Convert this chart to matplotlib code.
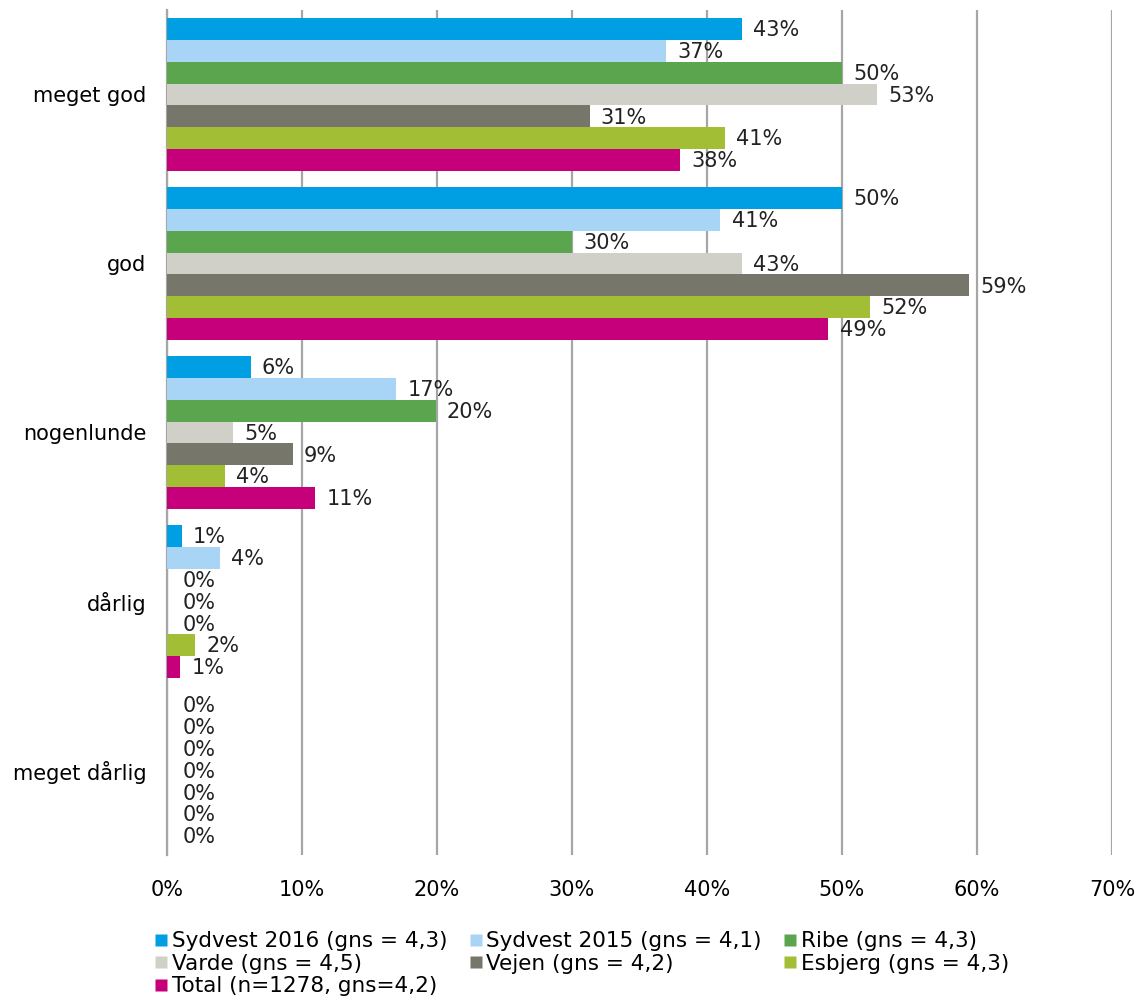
import numpy as np
import matplotlib.pyplot as plt
from matplotlib.lines import Line2D

categories = ['meget god', 'god', 'nogenlunde', 'dårlig', 'meget dårlig']
series = ['Sydvest 2016 (gns = 4,3)', 'Sydvest 2015 (gns = 4,1)', 'Ribe (gns = 4,3)',
          'Varde (gns = 4,5)', 'Vejen (gns = 4,2)', 'Esbjerg (gns = 4,3)',
          'Total (n=1278, gns=4,2)']
colors = ['#009FE3', '#A8D4F5', '#5BA54F', '#D0D0C8', '#77766A', '#A1BE35', '#C5007A']

sydvest_2016 = [42.6, 50.0, 6.2, 1.1, 0]
sydvest_2015 = [37.0, 41.0, 17.0, 3.9, 0]
ribe = [50.0, 30.0, 19.9, 0, 0]
varde = [52.6, 42.6, 4.9, 0, 0]
vejen = [31.3, 59.4, 9.3, 0, 0]
esbjerg = [41.3, 52.1, 4.3, 2.1, 0]
total = [38.0, 49.0, 11.0, 1.0, 0]
values = [sydvest_2016, sydvest_2015, ribe, varde, vejen, esbjerg, total]

fig = plt.figure(figsize=(11.39, 9.96), dpi=100)
ax = fig.add_axes([0.1466, 0.1416, 0.8297, 0.8484])

bar_h = 0.129
y0 = np.arange(len(categories))
for i, (vals, col) in enumerate(zip(values, colors)):
    ys = y0 + (i - 3) * bar_h
    ax.barh(ys, vals, height=bar_h, color=col, zorder=3)
    for y, v in zip(ys, vals):
        dx = 8 if v > 0 else 11
        ax.annotate('%d%%' % round(v), (v, y), xytext=(dx, -1), textcoords='offset points',
                    ha='left', va='center', fontsize=15, color='#222222', zorder=4)

ax.set_ylim(len(categories) - 0.5, -0.5)
ax.set_xlim(0, 70)
ax.set_xticks(np.arange(0, 71, 10))
ax.set_xticklabels(['%d%%' % t for t in range(0, 71, 10)], fontsize=15)
ax.set_yticks(y0)
ax.set_yticklabels(categories, fontsize=15)
ax.tick_params(axis='y', length=0, pad=15)
ax.tick_params(axis='x', length=0, pad=18)
ax.grid(axis='x', color='#a6a6a6', linewidth=1.6, zorder=0)
for s in ['top', 'right', 'bottom']:
    ax.spines[s].set_visible(False)
ax.spines['left'].set_color('#a6a6a6')
ax.spines['left'].set_linewidth(1.6)

handles = [Line2D([], [], marker='s', color='none', markerfacecolor=c,
                  markeredgecolor='none', markersize=8) for c in colors]
order = [0, 3, 6, 1, 4, 2, 5]
ax.legend([handles[i] for i in order], [series[i] for i in order], ncol=3,
          loc='upper left', bbox_to_anchor=(-0.022, -0.08), frameon=False,
          fontsize=15.5, handlelength=0.6, handletextpad=0.2, columnspacing=1.0,
          labelspacing=0.12, borderaxespad=0)

fig.savefig('out.png', dpi=100)
